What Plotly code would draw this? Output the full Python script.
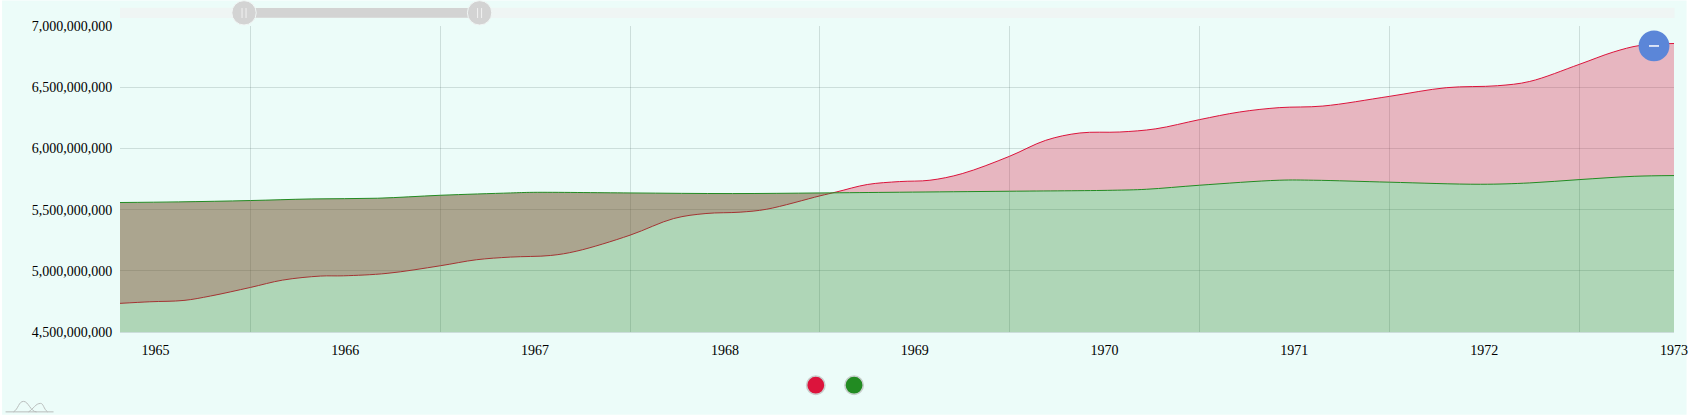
import plotly.graph_objects as go

W, H = 1692, 415
PL, PR, PT, PB = 119.5, 1674.4, 25.5, 332.0

year_ticks = [1965, 1966, 1967, 1968, 1969, 1970, 1971, 1972, 1973]
y_ticks = [4500000000, 5000000000, 5500000000, 6000000000, 6500000000, 7000000000]

red_x = [1964.813, 1964.97, 1965.15, 1965.29, 1965.5, 1965.67, 1965.87, 1965.99, 1966.22, 1966.5,
         1966.69, 1966.87, 1967.08, 1967.22, 1967.5, 1967.73, 1967.9, 1968.08, 1968.22, 1968.5,
         1968.59, 1968.75, 1968.92, 1969.08, 1969.25, 1969.5, 1969.69, 1969.87, 1970.08, 1970.27,
         1970.5, 1970.71, 1970.92, 1971.15, 1971.5, 1971.8, 1972.07, 1972.24, 1972.5, 1972.68,
         1972.82, 1973]
red_y = [4734, 4747, 4758, 4794, 4864, 4924, 4957, 4959, 4979, 5041,
         5090, 5112, 5125, 5161, 5291, 5427, 5468, 5479, 5503, 5612,
         5645, 5705, 5729, 5740, 5794, 5936, 6066, 6126, 6134, 6160,
         6235, 6297, 6333, 6346, 6425, 6496, 6512, 6547, 6686, 6787,
         6841, 6857]
green_x = [1964.813, 1965.12, 1965.5, 1965.82, 1966.17, 1966.5, 1966.87, 1966.99, 1967.5, 1968.04,
           1968.5, 1968.92, 1969.5, 1970.04, 1970.22, 1970.5, 1970.92, 1971.1, 1971.5, 1971.98,
           1972.24, 1972.5, 1972.79, 1973]
green_y = [5558, 5563, 5574, 5587, 5593, 5617, 5636, 5641, 5636, 5631,
           5636, 5642, 5650, 5658, 5666, 5699, 5740, 5740, 5724, 5707,
           5718, 5745, 5772, 5778]

RED, GREEN = "#dc143c", "#228b22"
BG = "#ecfcf9"
GRID = "rgba(60,90,85,0.18)"


def px(x):
    return (x - PL) / (PR - PL)


def py(y):
    return (PB - y) / (PB - PT)


def box(x0, y0, x1, y1, **kw):
    return dict(type="rect", xref="paper", yref="paper", x0=px(x0), x1=px(x1), y0=py(y0), y1=py(y1), **kw)


def circle(cx, cy, r, **kw):
    return dict(type="circle", xref="paper", yref="paper", x0=px(cx - r), x1=px(cx + r), y0=py(cy - r), y1=py(cy + r), **kw)


def seg(x0, y0, x1, y1, color, width=1.0):
    return dict(type="line", xref="paper", yref="paper", x0=px(x0), x1=px(x1), y0=py(y0), y1=py(y1),
                line=dict(color=color, width=width))


green_vals = [v * 1000000 for v in green_y]
red_vals = [v * 1000000 for v in red_y]
spline = dict(shape="spline", smoothing=1)

fig = go.Figure()
# Invisible baseline so the red fill runs between the two curves.
fig.add_trace(go.Scatter(x=green_x, y=green_vals, mode="lines", line=dict(width=0, color="rgba(0,0,0,0)", **spline),
                         hoverinfo="skip", name="base"))
fig.add_trace(go.Scatter(x=red_x, y=red_vals, mode="lines", line=dict(color=RED, width=1, **spline),
                         fill="tonexty", fillcolor="rgba(220,20,60,0.3)", name="Red", hoverinfo="skip"))
fig.add_trace(go.Scatter(x=green_x, y=green_vals, mode="lines", line=dict(color=GREEN, width=1, **spline),
                         fill="tozeroy", fillcolor="rgba(33,125,30,0.3)", name="Green", hoverinfo="skip"))

shapes = [
    box(1.5, 0, 1687, H, fillcolor=BG, line_width=0, layer="below"),
    # scrollbar
    box(119.5, 7.3, 1675, 17.4, fillcolor="#eff5f4", line_width=0),
    box(243.5, 7.5, 479.5, 17.3, fillcolor="#d3d3d3", line_width=0),
]
for cx in (243.6, 479.3):
    shapes.append(circle(cx, 12.3, 12.2, fillcolor="#d3d3d3", line=dict(color="#f1f6f5", width=1)))
    shapes.append(seg(cx - 2, 7.5, cx - 2, 17.5, "#f1f1f1"))
    shapes.append(seg(cx + 2, 7.5, cx + 2, 17.5, "#f1f1f1"))
# zoom-out button
shapes.append(circle(1654.4, 45.5, 15.4, fillcolor="#5b86d8", line_width=0))
shapes.append(seg(1649.4, 45.5, 1659.4, 45.5, "#ffffff", 1.5))
# legend markers
shapes.append(circle(815.7, 385.3, 9.2, fillcolor=RED, line=dict(color="#c8cfcd", width=1.6)))
shapes.append(circle(854, 385.3, 9.2, fillcolor=GREEN, line=dict(color="#c8cfcd", width=1.6)))
# small logo
shapes.append(seg(5, 412, 53, 412, "#b9bdbc", 1))
shapes.append(dict(type="path", xref="paper", yref="paper",
                   path="M %f %f C %f %f %f %f %f %f C %f %f %f %f %f %f" % (
                       px(13), py(412), px(18), py(409), px(18), py(401.5), px(23), py(401.5),
                       px(28), py(401.5), px(30), py(412), px(36), py(412)),
                   line=dict(color="#b9bdbc", width=1)))
shapes.append(dict(type="path", xref="paper", yref="paper",
                   path="M %f %f C %f %f %f %f %f %f C %f %f %f %f %f %f" % (
                       px(28), py(412), px(33), py(409), px(35), py(403.5), px(40), py(403.5),
                       px(43), py(403.5), px(43), py(409), px(47), py(412)),
                   line=dict(color="#b9bdbc", width=1)))

fig.update_layout(
    width=W, height=H, showlegend=False,
    margin=dict(l=PL, r=W - PR, t=PT, b=H - PB, pad=0, autoexpand=False),
    paper_bgcolor="#ffffff", plot_bgcolor="rgba(0,0,0,0)",
    font=dict(family="Liberation Serif", size=14, color="#000000"),
    shapes=shapes,
    xaxis=dict(range=[1964.813, 1973], tickmode="array", tickvals=year_ticks,
               ticktext=[str(v) for v in year_ticks], showgrid=False, zeroline=False,
               ticks="outside", ticklen=5, tickcolor="rgba(0,0,0,0)", tickangle=0,
               showline=True, linecolor=GRID, linewidth=1,
               minor=dict(tick0=1965.5, dtick=1, showgrid=True, gridcolor=GRID, gridwidth=1.3, ticks="")),
    yaxis=dict(range=[4500000000, 7000000000], tickmode="array", tickvals=y_ticks,
               tickformat=",d", showgrid=True, gridcolor=GRID, gridwidth=1.3, zeroline=False,
               ticks="outside", ticklen=4, tickcolor="rgba(0,0,0,0)", showline=False),
)
fig.write_html("out.html", config={"displayModeBar": False},
               post_script="document.body.style.margin='0';document.documentElement.style.overflow='hidden';")
